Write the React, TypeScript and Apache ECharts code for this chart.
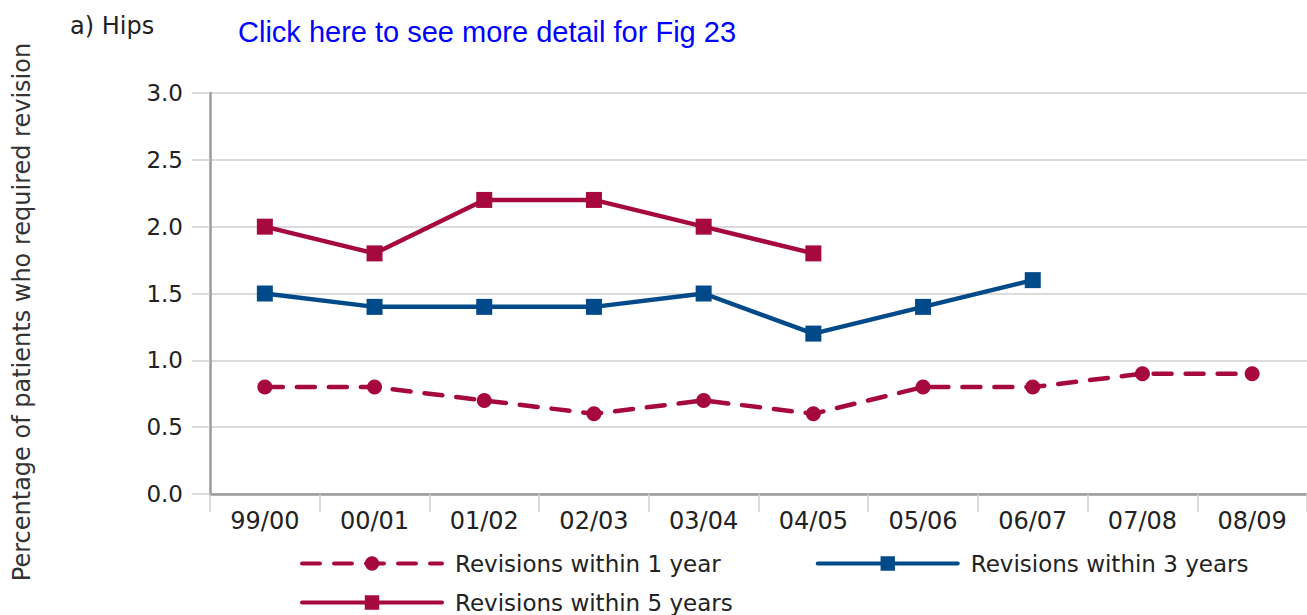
import React, { useEffect, useRef } from "react";
import * as echarts from "echarts";

const categories = ["99/00", "00/01", "01/02", "02/03", "03/04", "04/05", "05/06", "06/07", "07/08", "08/09"];
const within1 = [0.8, 0.8, 0.7, 0.6, 0.7, 0.6, 0.8, 0.8, 0.9, 0.9];
const within3 = [1.5, 1.4, 1.4, 1.4, 1.5, 1.2, 1.4, 1.6, null, null];
const within5 = [2.0, 1.8, 2.2, 2.2, 2.0, 1.8, null, null, null, null];
const yTicks = [0, 0.5, 1, 1.5, 2, 2.5, 3];

const RED = "#A6093D";
const BLUE = "#004A8A";
const FONT = "DejaVu Sans";

export default function App() {
  const ref = useRef<HTMLDivElement>(null);
  useEffect(() => {
    const chart = echarts.init(ref.current!, null, { renderer: "svg" });
    chart.setOption({
      animation: false,
      textStyle: { fontFamily: FONT },
      title: [
        { text: "a) Hips", left: 65, top: 9, textStyle: { fontFamily: FONT, fontSize: 24, fontWeight: "normal", color: "#222" } },
        { text: "Click here to see more detail for Fig 23", left: 233, top: 12, textStyle: { fontFamily: "Liberation Sans", fontSize: 29, fontWeight: "normal", color: "#0000FF" } },
      ],
      graphic: [
        {
          type: "text",
          x: 22,
          y: 312,
          rotation: Math.PI / 2,
          style: { text: "Percentage of patients who required revision", fontFamily: FONT, fontSize: 24, fill: "#333", align: "center", verticalAlign: "middle" },
        },
      ],
      legend: [
        {
          left: 295, top: 547, itemWidth: 140, itemHeight: 18, itemGap: 95,
          data: ["Revisions within 1 year", "Revisions within 3 years"],
          lineStyle: { width: 4 },
          textStyle: { fontFamily: FONT, fontSize: 23, color: "#222", padding: [0, 0, 0, 8] },
        },
        {
          left: 295, top: 586, itemWidth: 140, itemHeight: 18,
          data: ["Revisions within 5 years"],
          lineStyle: { width: 4 },
          textStyle: { fontFamily: FONT, fontSize: 23, color: "#222", padding: [0, 0, 0, 8] },
        },
      ],
      grid: { left: 210, top: 93, width: 1100, height: 401, containLabel: false },
      xAxis: {
        type: "category",
        data: categories,
        boundaryGap: true,
        axisLine: { lineStyle: { color: "#9a9a9a", width: 2.5 } },
        axisTick: { show: true, length: 18, lineStyle: { color: "#cfcfcf", width: 1.5 } },
        axisLabel: { fontFamily: FONT, fontSize: 24, color: "#222", margin: 15 },
      },
      yAxis: {
        type: "value",
        min: yTicks[0],
        max: yTicks[yTicks.length - 1],
        interval: 0.5,
        axisLine: { show: true, lineStyle: { color: "#9a9a9a", width: 2.5 } },
        axisTick: { show: true, length: 18, lineStyle: { color: "#cfcfcf", width: 1.5 } },
        splitLine: { lineStyle: { color: "#cfcfcf", width: 1.5 } },
        axisLabel: { fontFamily: FONT, fontSize: 23, color: "#222", margin: 27, formatter: (v: number) => v.toFixed(1) },
      },
      series: [
        {
          name: "Revisions within 1 year",
          type: "line",
          data: within1,
          symbol: "circle",
          symbolSize: 15,
          itemStyle: { color: RED },
          lineStyle: { color: RED, width: 4.5, type: [18, 14], cap: "round" },
        },
        {
          name: "Revisions within 3 years",
          type: "line",
          data: within3,
          symbol: "rect",
          symbolSize: 16,
          itemStyle: { color: BLUE },
          lineStyle: { color: BLUE, width: 4.5, cap: "round" },
        },
        {
          name: "Revisions within 5 years",
          type: "line",
          data: within5,
          symbol: "rect",
          symbolSize: 16,
          itemStyle: { color: RED },
          lineStyle: { color: RED, width: 4.5, cap: "round" },
        },
      ],
    });
    return () => chart.dispose();
  }, []);
  return <div ref={ref} style={{ position: "absolute", left: 0, top: 0, width: 1307, height: 615 }} />;
}
